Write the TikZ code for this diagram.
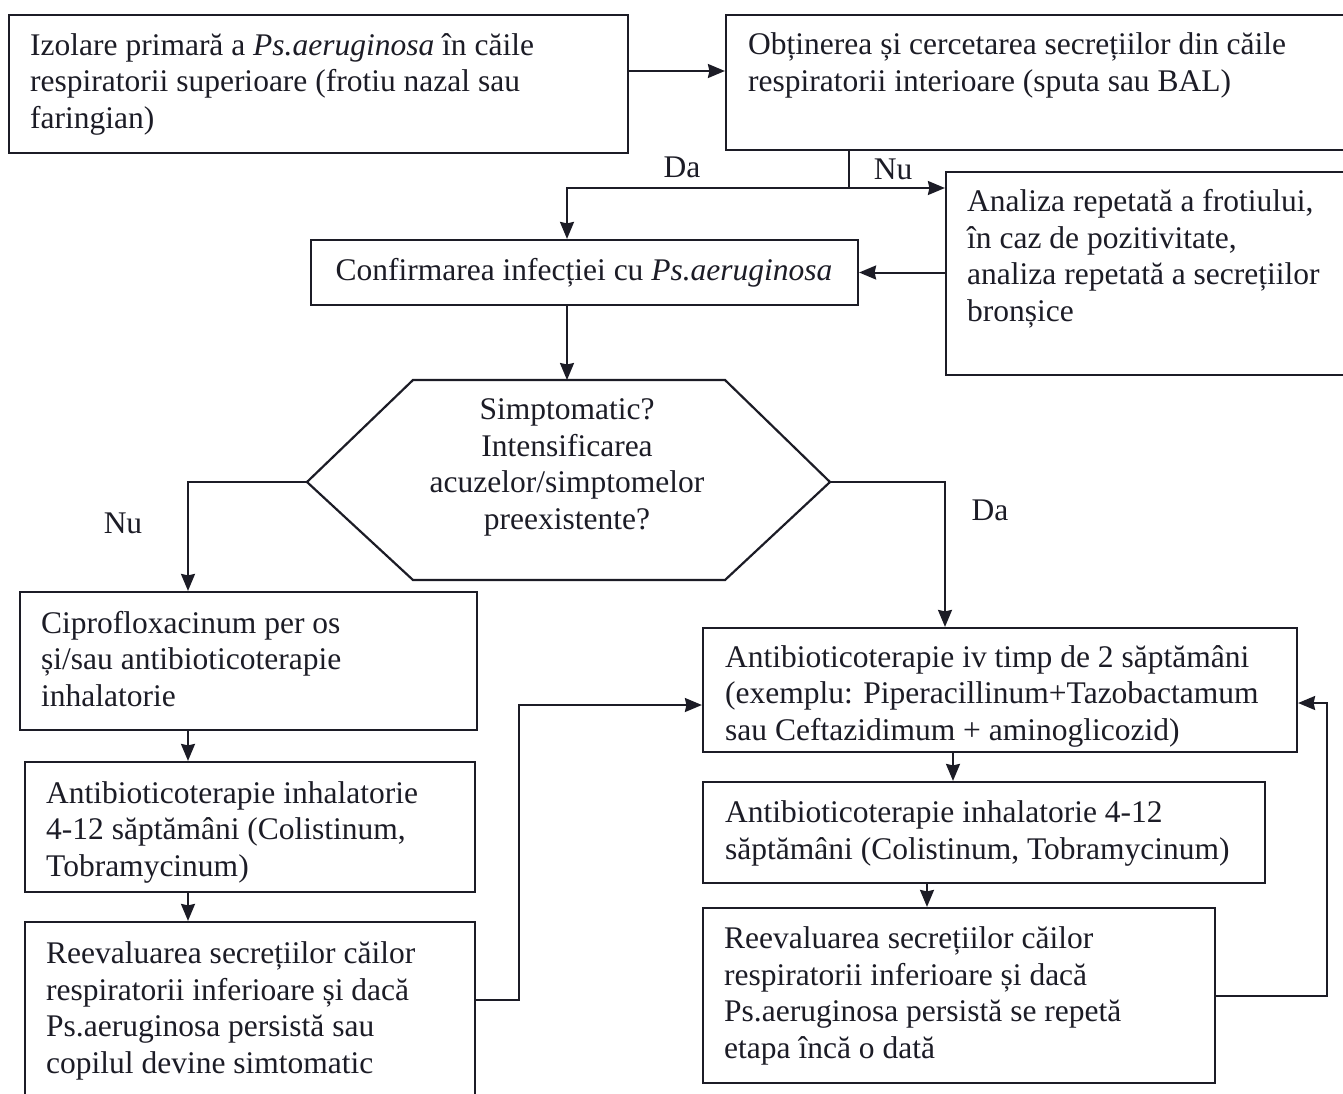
\documentclass[tikz,border=0pt]{standalone}
\usepackage{fontspec}
\setmainfont{Liberation Serif}
\usetikzlibrary{arrows.meta,fit,calc}
\definecolor{ink}{RGB}{28,28,38}
\begin{document}
\begin{tikzpicture}[x=1pt,y=-1pt,
  box/.style={draw=ink, line width=2.2pt, inner sep=0pt, rectangle},
  txt/.style={text=ink, inner sep=0pt, align=left, anchor=base west, font=\fontsize{31.5}{36.4}\selectfont},
  ctxt/.style={txt, align=center, anchor=base},
  lbl/.style={text=ink, inner sep=0pt, anchor=center, font=\fontsize{31.5}{36.4}\selectfont},
  wire/.style={draw=ink, line width=2pt},
  conn/.style={wire, -{Stealth[length=17pt,width=14pt,inset=1.5pt]}}
]
\fill[white] (0,0) rectangle (1343,1093);
\useasboundingbox (0,0) rectangle (1343,1093);

% boxes
\node[box, fit={(9,15) (628,153)}] (A) {};
\node[box, fit={(726,15) (1352,150)}] (B) {};
\node[box, fit={(946,172) (1352,375)}] (D) {};
\node[box, fit={(311,240) (858,305)}] (C) {};
\node[box, fit={(20,592) (477,730)}] (E) {};
\node[box, fit={(25,762) (475,892)}] (F) {};
\node[box, fit={(25,922) (475,1110)}] (G) {};
\node[box, fit={(703,628) (1297,752)}] (R1) {};
\node[box, fit={(703,782) (1265,883)}] (R2) {};
\node[box, fit={(703,908) (1215,1083)}] (R3) {};

% hexagon
\coordinate (hl) at (307,482);
\coordinate (hr) at (830,482);
\coordinate (ht) at (567,380);
\draw[wire, line width=2.2pt, line join=miter] (hl) -- (413,380) -- (725,380) -- (hr) -- (725,580) -- (413,580) -- cycle;

% texts (anchor = baseline of the last line)
\node[txt] (tA) at (30,128) {Izolare primară a \textit{Ps.aeruginosa} în căile\\respiratorii superioare (frotiu nazal sau\\faringian)};
\node[txt] (tB) at (748,91) {Obținerea și cercetarea secrețiilor din căile\\respiratorii interioare (sputa sau BAL)};
\node[txt] (tD) at (967,321) {Analiza repetată a frotiului,\\în caz de pozitivitate,\\analiza repetată a secrețiilor\\bronșice};
\node[ctxt] (tC) at (584,280) {Confirmarea infecției cu \textit{Ps.aeruginosa}};
\node[ctxt] (tH) at (567,529) {Simptomatic?\\Intensificarea\\acuzelor/simptomelor\\preexistente?};
\node[txt] (tE) at (41,706) {Ciprofloxacinum per os\\și/sau antibioticoterapie\\inhalatorie};
\node[txt] (tF) at (46,876) {Antibioticoterapie inhalatorie\\4-12 săptămâni (Colistinum,\\Tobramycinum)};
\node[txt] (tG) at (46,1073) {Reevaluarea secrețiilor căilor\\respiratorii inferioare și dacă\\Ps.aeruginosa persistă sau\\copilul devine simtomatic};
\node[txt] (tR1) at (725,740) {Antibioticoterapie iv timp de 2 săptămâni\\(exemplu: Piperacillinum+Tazobactamum\\sau Ceftazidimum + aminoglicozid)};
\node[txt] (tR2) at (725,859) {Antibioticoterapie inhalatorie 4-12\\săptămâni (Colistinum, Tobramycinum)};
\node[txt] (tR3) at (724,1058) {Reevaluarea secrețiilor căilor\\respiratorii inferioare și dacă\\Ps.aeruginosa persistă se repetă\\etapa încă o dată};

% labels
\node[lbl] (da1) at (682,167) {Da};
\node[lbl] (nu1) at (893,169) {Nu};
\node[lbl] (nu2) at (123,523) {Nu};
\node[lbl] (da2) at (990,510) {Da};

% helper coordinates
\coordinate (split) at (849,188);
\coordinate (cx) at (567,0);
\coordinate (lx) at (188,0);
\coordinate (rx) at (945,0);
\coordinate (r2x) at (953,0);
\coordinate (r3x) at (927,0);
\coordinate (ab) at (0,71);
\coordinate (g1) at (519,1000);
\coordinate (g2) at (519,705);
\coordinate (k1) at (1327,996);
\coordinate (k2) at (1327,703);

% connectors
\draw[conn] (A.east |- ab) -- (B.west |- ab);
\draw[wire] (split |- B.south) -- (split);
\draw[conn] (split) -| (cx |- C.north);
\draw[conn] (split) -- (split -| D.west);
\draw[conn] (D.west |- C.east) -- (C.east);
\draw[conn] (ht |- C.south) -- (ht);
\draw[conn] (hl) -| (lx |- E.north);
\draw[conn] (hr) -| (rx |- R1.north);
\draw[conn] (lx |- E.south) -- (lx |- F.north);
\draw[conn] (lx |- F.south) -- (lx |- G.north);
\draw[conn] (G.east |- g1) -- (g1) -- (g2) -- (R1.west |- g2);
\draw[conn] (r2x |- R1.south) -- (r2x |- R2.north);
\draw[conn] (r3x |- R2.south) -- (r3x |- R3.north);
\draw[conn] (R3.east |- k1) -- (k1) -- (k2) -- (R1.east |- k2);
\end{tikzpicture}
\end{document}
